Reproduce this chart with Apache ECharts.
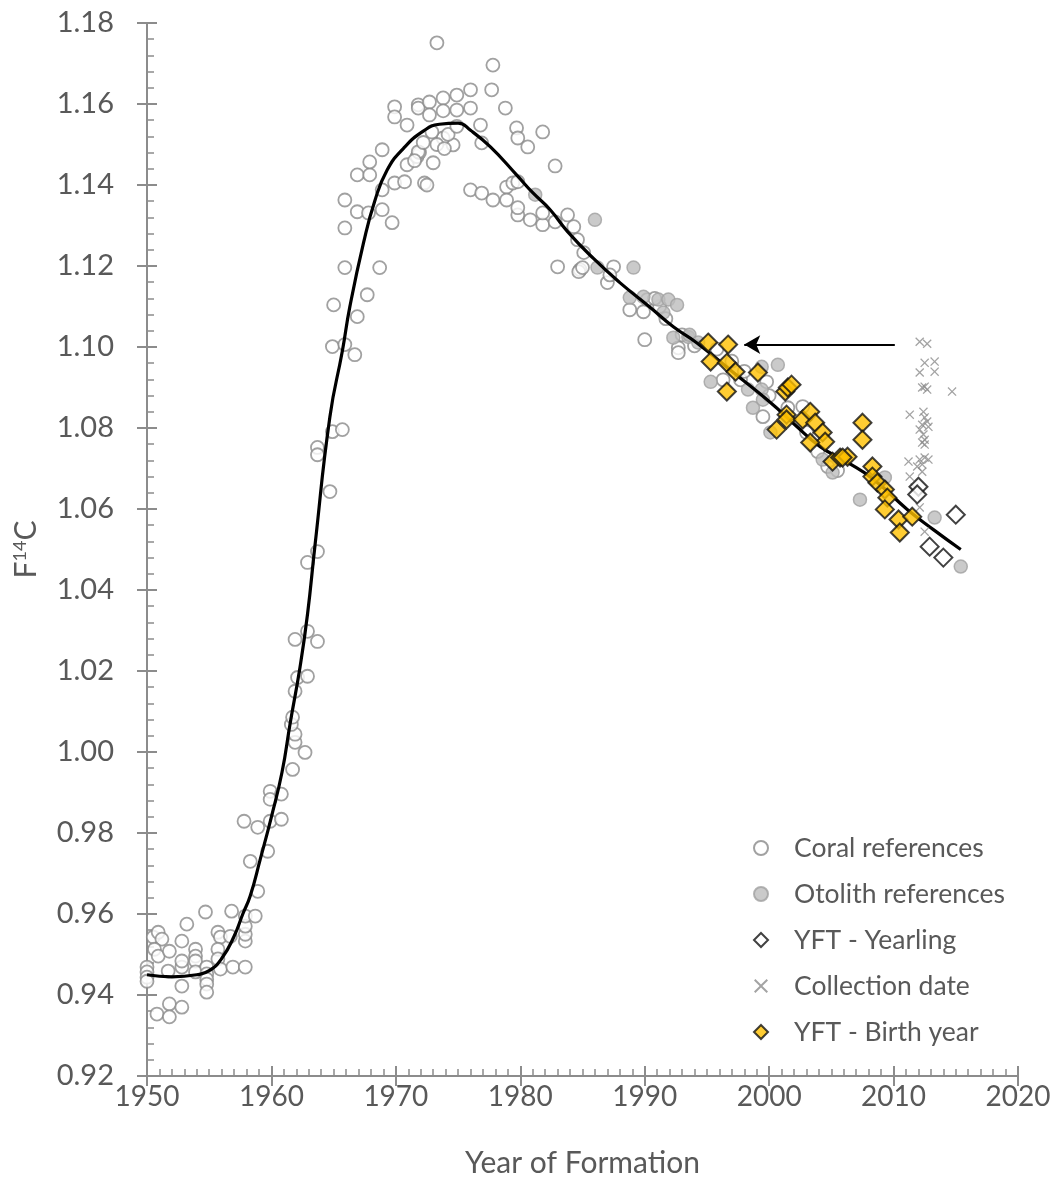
<!DOCTYPE html>
<html>
<head>
<meta charset="utf-8">
<script src="https://cdn.jsdelivr.net/npm/echarts@6/dist/echarts.min.js"></script>
<style>
html,body{margin:0;padding:0;background:#fff;}
#chart{width:1055px;height:1183px;}
</style>
</head>
<body>
<div id="chart"></div>
<script>
// ---- Data ----
const xTicks = [1950, 1960, 1970, 1980, 1990, 2000, 2010, 2020];
const yTicks = [0.92, 0.94, 0.96, 0.98, 1.00, 1.02, 1.04, 1.06, 1.08, 1.10, 1.12, 1.14, 1.16, 1.18];

const coralRefs = [
  [1950,0.9469],[1950,0.9457],[1950,0.9444],[1950,0.9434],
  [1950.5,0.9543],[1950.9,0.9555],[1951.2,0.9538],[1950.6,0.9513],[1950.9,0.9496],[1951.8,0.9508],
  [1951.7,0.9459],[1950.8,0.9353],[1951.8,0.9378],[1951.8,0.9346],[1952.8,0.9370],[1952.8,0.9469],
  [1952.8,0.9484],[1952.8,0.9422],[1952.8,0.9533],[1953.2,0.9575],[1953.9,0.9513],[1953.9,0.9496],
  [1953.9,0.9484],[1953.9,0.9457],[1954.7,0.9605],[1954.8,0.9469],[1954.8,0.9452],[1954.8,0.9439],
  [1954.8,0.9427],[1954.8,0.9407],[1955.7,0.9555],[1955.9,0.9543],[1955.7,0.9513],[1955.7,0.9489],
  [1955.9,0.9464],[1956.7,0.9545],[1956.8,0.9607],[1956.9,0.9469],[1957.9,0.9469],[1957.9,0.9533],
  [1957.9,0.9550],[1957.9,0.9570],[1957.9,0.9595],[1958.7,0.9595],[1958.9,0.9656],
  [1957.8,0.9829],[1958.9,0.9814],[1959.9,0.9829],[1960.8,0.9834],[1959.7,0.9755],[1958.3,0.9730],
  [1959.9,0.9903],[1959.9,0.9883],[1960.8,0.9896],[1961.7,0.9957],[1962.7,0.9999],[1961.9,1.0024],
  [1961.9,1.0044],[1961.6,1.0068],[1961.7,1.0086],[1961.9,1.0150],[1962.1,1.0184],[1962.9,1.0187],
  [1961.9,1.0278],[1962.9,1.0298],[1963.7,1.0273],[1962.9,1.0468],[1963.7,1.0495],
  [1964.7,1.0643],[1963.7,1.0752],[1963.7,1.0734],[1964.9,1.0791],[1965.7,1.0796],[1964.9,1.1001],
  [1965.9,1.1006],[1966.7,1.0981],[1966.9,1.1075],[1965.0,1.1104],[1967.7,1.1129],[1965.9,1.1196],
  [1968.7,1.1196],[1965.9,1.1294],[1966.9,1.1334],[1967.8,1.1331],[1968.9,1.1339],[1969.7,1.1307],
  [1965.9,1.1363],[1968.9,1.1388],[1966.9,1.1425],[1967.9,1.1425],[1967.9,1.1457],[1968.9,1.1487],
  [1969.9,1.1405],[1970.7,1.1408],[1970.9,1.1450],[1971.7,1.1470],[1971.9,1.1480],[1972.3,1.1405],
  [1970.9,1.1548],
  [1973.3,1.1751],[1977.8,1.1696],[1977.7,1.1635],[1978.8,1.1590],[1979.7,1.1541],[1981.8,1.1531],
  [1979.8,1.1516],[1980.6,1.1494],[1969.9,1.1593],[1969.9,1.1568],[1971.8,1.1598],[1971.8,1.1590],
  [1972.7,1.1605],[1972.7,1.1573],[1973.8,1.1615],[1973.8,1.1583],[1974.9,1.1622],[1974.9,1.1585],
  [1976.0,1.1635],[1976.0,1.1590],[1976.8,1.1548],[1976.9,1.1504],[1974.6,1.1499],[1973.8,1.1516],
  [1973.0,1.1455],[1972.9,1.1531],[1971.8,1.1482],[1972.5,1.1400],[1973.3,1.1500],[1973.9,1.1490],
  [1974.2,1.1525],[1972.2,1.1505],[1971.5,1.1460],[1974.9,1.1545],
  [1976.0,1.1388],[1976.9,1.1380],[1977.8,1.1363],[1978.9,1.1395],[1979.4,1.1405],[1979.8,1.1408],
  [1978.9,1.1363],[1979.8,1.1326],[1980.8,1.1314],[1981.8,1.1302],[1981.8,1.1331],
  [1982.8,1.1447],[1979.8,1.1344],[1982.8,1.1309],[1983.8,1.1326],[1984.3,1.1297],[1984.6,1.1265],
  [1985.1,1.1233],[1983.0,1.1198],[1984.8,1.1191],[1987.0,1.1159],[1987.5,1.1198],[1988.8,1.1092],
  [1984.7,1.1186],[1985.0,1.1196],[1987.2,1.1178],[1990.2,1.1117],[1989.9,1.1087],[1990.0,1.1018],
  [1992.7,1.0998],[1992.7,1.0986],[1991.2,1.1100],[1990.8,1.1120],[1991.7,1.1070],[1993.0,1.1030],
  [1994.0,1.1003],[1995.8,1.0995],[1996.3,1.0919],[1997.7,1.0919],[1999.8,1.0914],[1999.5,1.0828],
  [2002.7,1.0853],[2003.0,1.0789],[2003.9,1.0742],[2004.7,1.0705],[1997.0,1.0965],[1998.0,1.0940],
  [2000.0,1.0880],[2001.5,1.0850],[2005.5,1.0695]
];

const otolithRefs = [
  [1981.2,1.1376],[1986.0,1.1314],[1986.2,1.1196],[1989.1,1.1196],[1988.8,1.1122],[1989.9,1.1124],
  [1991.1,1.1117],[1991.9,1.1117],[1992.6,1.1104],[1991.5,1.1085],[1992.3,1.1023],[1993.5,1.1025],
  [1993.6,1.1030],[1994.3,1.1011],[1995.3,1.0914],[1998.3,1.0895],[1999.4,1.0895],[1999.4,1.0951],
  [2000.7,1.0956],[1998.7,1.0850],[1999.5,1.0870],[2000.1,1.0789],[2004.3,1.0722],[2005.1,1.0690],
  [2007.3,1.0623],[2009.3,1.0678],[2013.3,1.0579],[2015.4,1.0458]
];

const fitCurve = [
  [1950,0.9450],[1952,0.9445],[1954,0.9450],[1955,0.9460],[1956,0.9490],[1957,0.9545],
  [1957.7,0.9600],[1958.3,0.9645],[1959.1,0.9735],[1960,0.9840],[1960.85,0.9950],[1961.5,1.0070],
  [1962.3,1.0210],[1962.9,1.0340],[1963.5,1.0510],[1964.7,1.0828],[1965.7,1.0990],[1966.3,1.1099],
  [1967.4,1.1257],[1968.3,1.1360],[1969.3,1.1437],[1970.6,1.1490],[1972.2,1.1533],[1973.5,1.1550],
  [1975,1.1553],[1976,1.1535],[1977.6,1.1494],[1979.7,1.1425],[1981.0,1.1381],[1982.4,1.1339],
  [1983.8,1.1285],[1985.9,1.1218],[1988.0,1.1159],[1990.4,1.1099],[1992.3,1.1050],[1994.2,1.1010],
  [1997,1.0940],[2000.1,1.0863],[2002,1.0810],[2004.1,1.0754],[2006.3,1.0715],[2008.4,1.0673],
  [2011.1,1.0599],[2013.2,1.0549],[2015.4,1.0500]
];

const yftYearling = [
  [2012.0,1.0655],[2011.9,1.0636],[2015.0,1.0586],[2012.9,1.0507],[2014.0,1.0480]
];

const collectionDate = [
  [2012.1,1.1013],[2012.7,1.1008],[2012.5,1.0961],[2013.3,1.0964],[2012.1,1.0937],[2013.3,1.0939],
  [2012.3,1.0900],[2012.5,1.0902],[2012.7,1.0895],[2014.7,1.0890],[2011.3,1.0833],[2012.4,1.0840],
  [2012.5,1.0826],[2012.7,1.0816],[2012.3,1.0808],[2012.8,1.0803],[2012.1,1.0796],[2012.4,1.0784],
  [2012.5,1.0771],[2012.3,1.0764],[2012.5,1.0759],[2011.2,1.0717],[2012.1,1.0722],[2012.5,1.0727],
  [2012.8,1.0722],[2011.9,1.0705],[2012.3,1.0710],[2012.3,1.0692],[2011.3,1.0680],[2011.7,1.0653],
  [2012.1,1.0604],[2012.5,1.0544]
];

const yftBirthYear = [
  [1995.1,1.1011],[1996.7,1.1006],[1995.3,1.0964],[1996.6,1.0961],[1997.3,1.0939],[1996.6,1.0890],
  [1999.1,1.0937],[2001.3,1.0890],[2001.5,1.0900],[2001.8,1.0907],[2001.4,1.0833],[2001.4,1.0821],
  [2000.6,1.0796],[2002.7,1.0821],[2003.3,1.0840],[2003.7,1.0813],[2004.3,1.0789],[2004.5,1.0766],
  [2003.3,1.0764],[2005.1,1.0717],[2005.7,1.0727],[2006.3,1.0729],[2007.5,1.0813],[2007.5,1.0771],
  [2008.3,1.0705],[2008.3,1.0680],[2008.7,1.0665],[2009.3,1.0648],[2009.5,1.0628],[2009.3,1.0599],
  [2010.4,1.0574],[2010.5,1.0542],[2011.5,1.0581],[2005.9,1.0727]
];

const arrowFrom = [2010.1, 1.1006];
const arrowTo = [1998.0, 1.1006];

// ---- Chart ----
const FONT = 'Lato';
const TXT = '#595959';
const AX = '#8c8c8c';
const crossPath = 'path://M0,1L1,0L5,4L9,0L10,1L6,5L10,9L9,10L5,6L1,10L0,9L4,5Z';

const chart = echarts.init(document.getElementById('chart'), null, {renderer: 'canvas'});

const xBase = {
  type: 'value', min: xTicks[0], max: xTicks[xTicks.length - 1], interval: 10,
  splitLine: {show: false}
};
const yBase = {
  type: 'value', min: yTicks[0], max: yTicks[yTicks.length - 1], interval: 0.02,
  splitLine: {show: false}
};

chart.setOption({
  animation: false,
  backgroundColor: '#fff',
  textStyle: {fontFamily: FONT},
  grid: {left: 147, right: 37, top: 23, bottom: 106, containLabel: false},
  xAxis: [
    Object.assign({}, xBase, {
      position: 'bottom',
      axisLine: {show: true, lineStyle: {color: AX, width: 2}},
      axisTick: {show: true, inside: false, length: 10, lineStyle: {color: AX, width: 2}},
      axisLabel: {show: true, color: TXT, fontSize: 28, fontFamily: FONT, margin: 7,
        formatter: v => String(Math.round(v))},
      name: 'Year of Formation', nameLocation: 'middle', nameGap: 72,
      nameTextStyle: {color: TXT, fontSize: 30, fontFamily: FONT}
    }),
    Object.assign({}, xBase, {
      position: 'bottom',
      axisLine: {show: false},
      axisTick: {show: true, inside: true, length: 10, lineStyle: {color: AX, width: 2}},
      minorTick: {show: true, splitNumber: 10, length: 7, lineStyle: {color: AX, width: 1.5}},
      axisLabel: {show: false}
    })
  ],
  yAxis: [
    Object.assign({}, yBase, {
      position: 'left',
      axisLine: {show: true, lineStyle: {color: AX, width: 2}},
      axisTick: {show: true, inside: false, length: 10, lineStyle: {color: AX, width: 2}},
      axisLabel: {show: true, color: TXT, fontSize: 29, fontFamily: FONT, margin: 33,
        formatter: v => v.toFixed(2)},
      name: '{a|F}{b|14}{a|C}', nameLocation: 'middle', nameGap: 105, nameRotate: 90,
      nameTextStyle: {color: TXT, fontFamily: FONT,
        rich: {a: {fontSize: 30, color: TXT, fontFamily: FONT},
               b: {fontSize: 18, color: TXT, fontFamily: FONT, padding: [0, 0, 13, 0]}}}
    }),
    Object.assign({}, yBase, {
      position: 'left',
      axisLine: {show: false},
      axisTick: {show: true, inside: true, length: 10, lineStyle: {color: AX, width: 2}},
      minorTick: {show: true, splitNumber: 5, length: 7, lineStyle: {color: AX, width: 1.5}},
      axisLabel: {show: false}
    })
  ],
  legend: {
    orient: 'vertical', left: 748, top: 829,
    itemWidth: 14, itemHeight: 14, itemGap: 18,
    textStyle: {color: TXT, fontSize: 26.5, fontFamily: FONT, lineHeight: 28, padding: [0, 0, 0, 21]},
    data: ['Coral references', 'Otolith references', 'YFT - Yearling', 'Collection date', 'YFT - Birth year']
  },
  series: [
    {
      name: 'Coral references', type: 'scatter', data: coralRefs,
      symbol: 'circle', symbolSize: 13,
      itemStyle: {color: '#ffffff', borderColor: '#8a8a8a', borderWidth: 1.8}
    },
    {
      name: 'Otolith references', type: 'scatter', data: otolithRefs,
      symbol: 'circle', symbolSize: 13,
      itemStyle: {color: '#bdbdbd', borderColor: '#a0a0a0', borderWidth: 1.5}
    },
    {
      name: 'Fit', type: 'line', data: fitCurve, smooth: 0.5, showSymbol: false,
      lineStyle: {color: '#000', width: 3.2}, z: 3,
      markLine: {
        silent: true, symbol: ['none', 'arrow'], symbolSize: [14, 16],
        lineStyle: {color: '#000', width: 2, type: 'solid'},
        label: {show: false},
        data: [[{coord: arrowFrom}, {coord: arrowTo}]]
      }
    },
    {
      name: 'Collection date', type: 'scatter', data: collectionDate,
      symbol: crossPath, symbolSize: 9, z: 4,
      itemStyle: {color: '#8c8c8c'}
    },
    {
      name: 'YFT - Yearling', type: 'scatter', data: yftYearling,
      symbol: 'diamond', symbolSize: [18, 18], z: 5,
      itemStyle: {color: '#ffffff', borderColor: '#111', borderWidth: 2}
    },
    {
      name: 'YFT - Birth year', type: 'scatter', data: yftBirthYear,
      symbol: 'diamond', symbolSize: [18, 18], z: 6,
      itemStyle: {color: '#ffc000', borderColor: '#111', borderWidth: 2}
    }
  ]
});
</script>
</body>
</html>
